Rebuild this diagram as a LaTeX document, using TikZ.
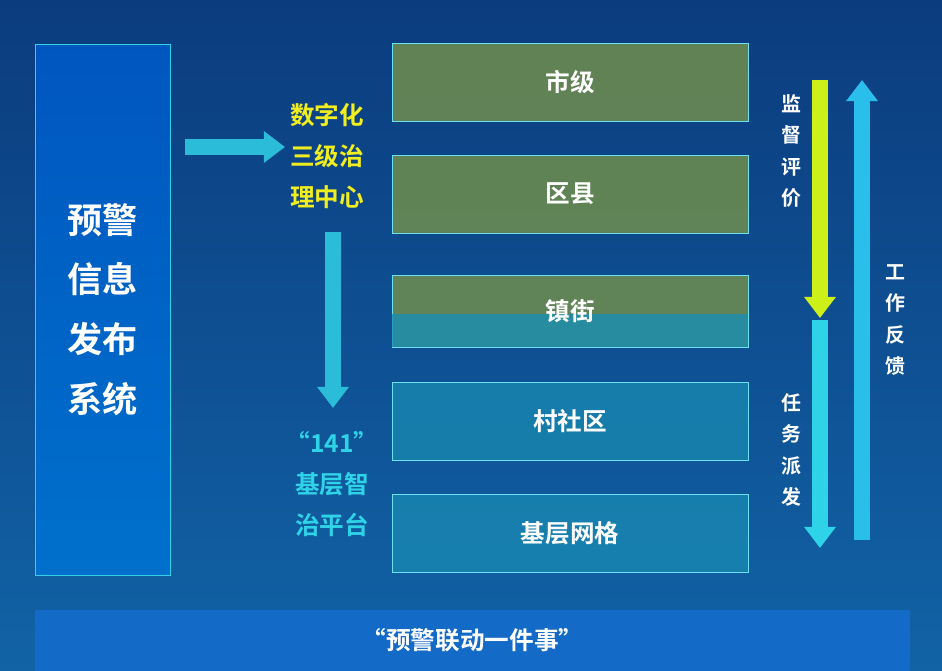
\documentclass[tikz,border=0pt]{standalone}
\usepackage{fontspec}
\setmainfont{Noto Sans CJK SC}[BoldFont={Noto Sans CJK SC Bold}]
\usetikzlibrary{positioning,arrows.meta,calc}
\definecolor{bgTop}{HTML}{0B3C7E}
\definecolor{bgBot}{HTML}{1163A6}
\definecolor{cyanLine}{HTML}{2FD3E8}
\definecolor{yellowTxt}{HTML}{F2EE1E}
\definecolor{oliveBox}{HTML}{6F8E4E}
\definecolor{tealBox}{HTML}{1A8EB4}
\tikzset{>=latex,
    levelbox/.style={minimum width=356*0.03cm,minimum height=78*0.03cm,draw=cyanLine!70,line width=0.6pt,
        text=white,font=\bfseries\fontsize{21}{24}\selectfont},
    sidetext/.style={align=center,font=\bfseries\fontsize{21}{35}\selectfont},
    vlabel/.style={align=center,text=white,font=\bfseries\fontsize{17}{27}\selectfont},
    bigarrow/.style={line width=13pt,-{Triangle[width=26pt,length=18pt]}}
}
\begin{document}
\begin{tikzpicture}[x=0.03cm,y=-0.03cm]

    \shade[top color=bgTop,bottom color=bgBot] (0,0) rectangle (942,671);
    \useasboundingbox (0,0) rectangle (942,671);

    \node
        [minimum width=135*0.03cm,minimum height=531*0.03cm,draw=cyanLine,line width=0.8pt,
         top color=blue!55!cyan!75!black,bottom color=blue!45!cyan!80!black,
         align=center,text=white,font=\bfseries\fontsize{30}{51}\selectfont]
        at (102.5,309.5)
        (system) {预警\\信息\\发布\\系统};

    \node[levelbox,fill=oliveBox,fill opacity=0.85,text opacity=1] at (570,82) (city) {市级};
    \node[levelbox,fill=oliveBox,fill opacity=0.85,text opacity=1] at (570,194) (county) {区县};
    \node[levelbox,minimum height=72*0.03cm,fill=oliveBox,fill opacity=0.85,text opacity=1] at (570,311) (town) {};
    \fill[tealBox,opacity=0.8] ($(town.west)+(0,3)$) rectangle (town.south east);
    \node[text=white,font=\bfseries\fontsize{21}{24}\selectfont] at (town) {镇街};
    \node[levelbox,fill=tealBox,fill opacity=0.7,text opacity=1] at (570,421) (village) {村社区};
    \node[levelbox,fill=tealBox,fill opacity=0.7,text opacity=1] at (570,533.5) (grid) {基层网格};

    \node[sidetext,text=yellowTxt] at (327,156) (center) {数字化\\三级治\\理中心};
    \node[sidetext,text=cyanLine] at (332,484) (platform) {“141”\\基层智\\治平台};

    \node
        [minimum width=875*0.03cm,minimum height=61*0.03cm,fill=tealBox!75!blue,
         text=white,font=\bfseries\fontsize{21}{24}\selectfont]
        at (472.5,640.5)
        (bar) {“预警联动一件事”};

    \node[vlabel] at (791,151) (supervise) {监\\督\\评\\价};
    \node[vlabel] at (791,450) (assign) {任\\务\\派\\发};
    \node[vlabel] at (895,320) (feedback) {工\\作\\反\\馈};

    \coordinate (hStart) at (185,147);
    \coordinate (hEnd) at (285,147);
    \coordinate (vStart) at (333,232);
    \coordinate (vEnd) at (333,408);
    \coordinate (supTop) at (820,80);
    \coordinate (supEnd) at (820,318);
    \coordinate (asgEnd) at (820,548);
    \coordinate (fbStart) at (862,540);
    \coordinate (fbEnd) at (862,80);

    \draw[bigarrow,cyanLine!85!bgTop] (hStart) -- (hEnd);
    \draw[bigarrow,cyanLine!85!bgTop] (vStart) -- (vEnd);
    \draw[bigarrow,yellowTxt!85!green] (supTop) -- (supEnd);
    \draw[bigarrow,cyanLine] ($(supEnd)+(0,2)$) -- (asgEnd);
    \draw[bigarrow,cyanLine!90!blue] (fbStart) -- (fbEnd);

\end{tikzpicture}
\end{document}
